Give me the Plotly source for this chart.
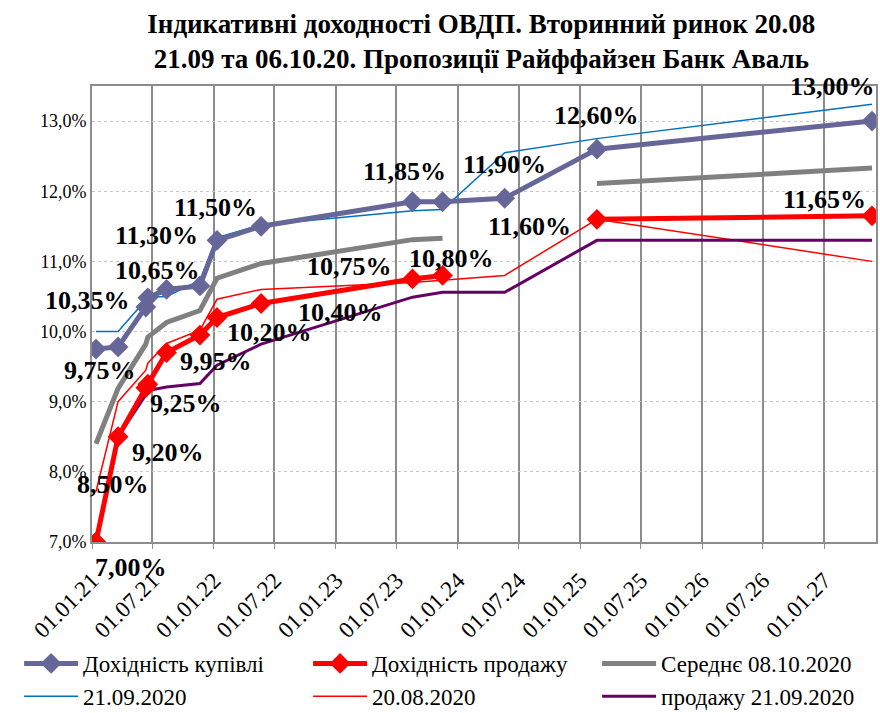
import plotly.graph_objects as go

# ---------------- data ----------------
dates = ["2021-01-13", "2021-03-20", "2021-06-11", "2021-06-17", "2021-08-12",
         "2021-11-20", "2022-01-10", "2022-05-22", "2023-08-18", "2023-11-16",
         "2024-05-20", "2025-02-20", "2027-05-24"]

buy_yield = [9.75, 9.78, 10.35, 10.48, 10.60, 10.65, 11.30, 11.50, 11.85, 11.85, 11.90, 12.60, 13.00]
sell_yield = [7.00, 8.50, 9.20, 9.25, 9.70, 9.95, 10.20, 10.40, 10.75, 10.80, None, 11.60, 11.65]
avg_0810 = [8.40, 9.19, 9.82, 9.92, 10.13, 10.30, 10.76, 10.97, 11.31, 11.33, None, 12.11, 12.33]
buy_2109 = [10.00, 10.00, 10.45, 10.49, 10.50, 10.73, 11.34, 11.52, 11.72, 11.74, 12.55, 12.75, 13.24]
sell_2008 = [7.72, 9.00, 9.45, 9.55, 9.83, 10.02, 10.46, 10.60, 10.70, 10.73, 10.80, 11.60, 11.00]
sell_2109 = [7.00, 8.50, 9.10, 9.16, 9.21, 9.26, 9.52, 9.82, 10.49, 10.56, 10.56, 11.30, 11.30]

names = ["Дохідність купівлі", "Дохідність продажу", "Середнє 08.10.2020",
         "21.09.2020", "20.08.2020", "продажу 21.09.2020"]

y_ticks = [7, 8, 9, 10, 11, 12, 13]
y_ticktext = [f"{v:.1f}".replace(".", ",") + "%" for v in y_ticks]

title_lines = ["Індикативні доходності ОВДП. Вторинний ринок 20.08",
               "21.09 та 06.10.20. Пропозиції Райффайзен Банк Аваль"]

# data-label placement (index, dx, dy in px)
buy_labels = [(0, 4, 21), (2, -58, -6), (5, -42, -15), (6, -60, -5), (7, -46, -19),
              (8, -8, -30), (10, 0, -34), (11, 0, -34), (12, -39, -35)]
sell_labels = [(0, 35, 25), (1, -5, 48), (2, 22, 65), (3, 38, 19), (5, 16, 26),
               (6, 53, 15), (7, 79, 9), (8, -63, -12), (9, 9, -17), (11, -67, 7),
               (12, -47, -16)]

FONT = "Liberation Serif"


def pct(v):
    return f"{v:.2f}".replace(".", ",") + "%"


fig = go.Figure()

fig.add_trace(go.Scatter(x=dates, y=avg_0810, name=names[2], mode="lines",
                         line=dict(color="#808080", width=5), legendrank=3))
fig.add_trace(go.Scatter(x=dates, y=buy_2109, name=names[3], mode="lines",
                         line=dict(color="#0070C0", width=1.5), legendrank=4))
fig.add_trace(go.Scatter(x=dates, y=sell_2008, name=names[4], mode="lines",
                         line=dict(color="#FF0000", width=1.5), legendrank=5))
fig.add_trace(go.Scatter(x=dates, y=sell_2109, name=names[5], mode="lines",
                         line=dict(color="#660066", width=3), legendrank=6))
fig.add_trace(go.Scatter(x=dates, y=buy_yield, name=names[0], mode="lines+markers",
                         line=dict(color="#666699", width=5),
                         marker=dict(symbol="diamond", size=16, color="#666699"),
                         legendrank=1))
fig.add_trace(go.Scatter(x=dates, y=sell_yield, name=names[1], mode="lines+markers",
                         line=dict(color="#FF0000", width=5),
                         marker=dict(symbol="diamond", size=16, color="#FF0000"),
                         legendrank=2))

annotations = []
for series, labels in ((buy_yield, buy_labels), (sell_yield, sell_labels)):
    for i, dx, dy in labels:
        annotations.append(dict(x=dates[i], y=series[i], xref="x", yref="y",
                                text=pct(series[i]), showarrow=False,
                                xshift=dx, yshift=-dy,
                                font=dict(family=FONT, size=26, color="black",
                                          weight="bold")))

fig.update_layout(
    width=880, height=713,
    paper_bgcolor="white", plot_bgcolor="white",
    margin=dict(l=92, r=4, t=86, b=171, autoexpand=False),
    font=dict(family=FONT, color="black"),
    title=dict(text="<br>".join(title_lines), x=0.547, xanchor="center",
               y=0.954, yanchor="top",
               font=dict(family=FONT, size=27, color="black", weight="bold")),
    annotations=annotations,
    showlegend=True,
    legend=dict(orientation="h", x=-0.093, xanchor="left", y=-0.386, yanchor="bottom",
                entrywidth=220, entrywidthmode="pixels", itemwidth=54,
                font=dict(family=FONT, size=23, color="black"),
                traceorder="normal", tracegroupgap=0),
    xaxis=dict(type="date", range=["2021-01-01", "2027-06-05"],
               tick0="2021-01-01", dtick="M6", tickformat="%d.%m.%y",
               tickangle=-45, tickfont=dict(family=FONT, size=23, color="black"),
               ticklabelstandoff=9,
               showgrid=True, gridcolor="#8c8c8c", gridwidth=2,
               showline=True, linecolor="#8c8c8c", linewidth=2, mirror=True,
               ticks="outside", ticklen=5, tickcolor="#8c8c8c", zeroline=False,
               automargin=False),
    yaxis=dict(range=[7, 13.5], tickvals=y_ticks, ticktext=y_ticktext,
               tickfont=dict(family=FONT, size=18, color="black"),
               showgrid=True, gridcolor="#c8c8c8", gridwidth=1, griddash="dot",
               showline=True, linecolor="#8c8c8c", linewidth=2, mirror=True,
               ticks="", zeroline=False, automargin=False),
)

fig.write_html("out.html",
               config={"displayModeBar": False},
               post_script="document.body.style.margin='0';document.body.style.overflow='hidden';")
